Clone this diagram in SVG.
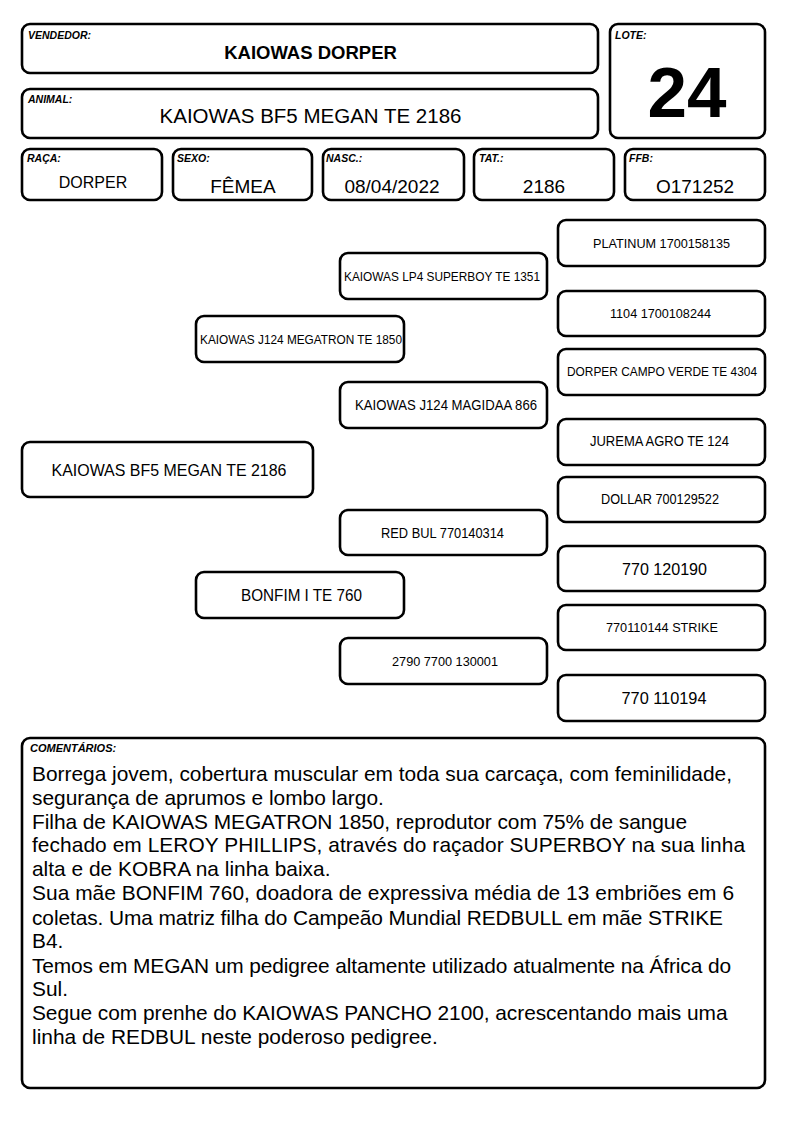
<svg xmlns="http://www.w3.org/2000/svg" width="794" height="1123" viewBox="0 0 794 1123">
<style>
rect{fill:#fff;stroke:#000;stroke-width:2.6}
text{font-family:"Liberation Sans",Arial,sans-serif;fill:#000}
.lbl{font-size:10.5px;font-weight:bold;font-style:italic}
.ped{font-size:13.5px;text-anchor:middle}
.mid{text-anchor:middle}
.val{font-size:19px;text-anchor:middle}
.cm{font-size:20.9px}
</style>
<rect width="794" height="1123" style="fill:#fff;stroke:none"/>
<g id="vendedor"><rect x="22" y="24" width="576" height="49" rx="8"/><text class="lbl" x="28" y="39">VENDEDOR:</text><text class="mid" x="310.5" y="59" style="font-size:18.5px;font-weight:bold">KAIOWAS DORPER</text></g>
<g id="animal"><rect x="22" y="89" width="576" height="49" rx="8"/><text class="lbl" x="28" y="103">ANIMAL:</text><text class="mid" x="310.5" y="123" style="font-size:20.5px">KAIOWAS BF5 MEGAN TE 2186</text></g>
<g id="lote"><rect x="610" y="24" width="155" height="114" rx="8"/><text class="lbl" x="615" y="39">LOTE:</text><text class="mid" x="687" y="117" style="font-size:71px;font-weight:bold">24</text></g>
<g id="raca"><rect x="22" y="149" width="140" height="51" rx="8"/><text class="lbl" x="27" y="162">RAÇA:</text><text class="mid" x="93" y="188" style="font-size:16px">DORPER</text></g>
<g id="sexo"><rect x="173" y="149" width="139" height="51" rx="8"/><text class="lbl" x="177" y="162">SEXO:</text><text class="val" x="243" y="193">FÊMEA</text></g>
<g id="nasc"><rect x="323" y="149" width="141" height="51" rx="8"/><text class="lbl" x="326" y="162">NASC.:</text><text class="val" x="392" y="193">08/04/2022</text></g>
<g id="tat"><rect x="474" y="149" width="140" height="51" rx="8"/><text class="lbl" x="479" y="162">TAT.:</text><text class="val" x="544" y="193">2186</text></g>
<g id="ffb"><rect x="625" y="149" width="140" height="51" rx="8"/><text class="lbl" x="629" y="162">FFB:</text><text class="val" x="695" y="193">O171252</text></g>
<g id="connectors"></g>
<g id="p-platinum"><rect x="558" y="220" width="207" height="46" rx="8"/><text class="ped" x="661.5" y="247.5" textLength="137" lengthAdjust="spacingAndGlyphs">PLATINUM 1700158135</text></g>
<g id="p-1104"><rect x="558" y="291" width="207" height="45" rx="8"/><text class="ped" x="660.5" y="317.5" textLength="101" lengthAdjust="spacingAndGlyphs">1104 1700108244</text></g>
<g id="p-campoverde"><rect x="558" y="349" width="207" height="46" rx="8"/><text class="ped" x="662" y="376" textLength="190" lengthAdjust="spacingAndGlyphs">DORPER CAMPO VERDE TE 4304</text></g>
<g id="p-jurema"><rect x="558" y="419" width="207" height="46" rx="8"/><text class="ped" x="659.5" y="446" style="font-size:13.8px" textLength="139" lengthAdjust="spacingAndGlyphs">JUREMA AGRO TE 124</text></g>
<g id="p-dollar"><rect x="558" y="477" width="207" height="45" rx="8"/><text class="ped" x="660" y="504" style="font-size:13.8px" textLength="118" lengthAdjust="spacingAndGlyphs">DOLLAR 700129522</text></g>
<g id="p-770120190"><rect x="558" y="546" width="207" height="45" rx="8"/><text class="ped" x="664.5" y="575" style="font-size:17px" textLength="85" lengthAdjust="spacingAndGlyphs">770 120190</text></g>
<g id="p-strike"><rect x="558" y="605" width="207" height="45" rx="8"/><text class="ped" x="662" y="632" textLength="112" lengthAdjust="spacingAndGlyphs">770110144 STRIKE</text></g>
<g id="p-770110194"><rect x="558" y="675" width="207" height="46" rx="8"/><text class="ped" x="664" y="704" style="font-size:17px" textLength="85" lengthAdjust="spacingAndGlyphs">770 110194</text></g>
<g id="p-superboy"><rect x="340" y="253" width="207" height="46" rx="8"/><text class="ped" x="442" y="280.5" textLength="196" lengthAdjust="spacingAndGlyphs">KAIOWAS LP4 SUPERBOY TE 1351</text></g>
<g id="p-magidaa"><rect x="340" y="382" width="207" height="46" rx="8"/><text class="ped" x="446" y="410" style="font-size:14px" textLength="182" lengthAdjust="spacingAndGlyphs">KAIOWAS J124 MAGIDAA 866</text></g>
<g id="p-redbul"><rect x="340" y="510" width="207" height="45" rx="8"/><text class="ped" x="442.5" y="537.5" style="font-size:13.8px" textLength="123" lengthAdjust="spacingAndGlyphs">RED BUL 770140314</text></g>
<g id="p-2790"><rect x="340" y="638" width="207" height="46" rx="8"/><text class="ped" x="445" y="665.5" textLength="106" lengthAdjust="spacingAndGlyphs">2790 7700 130001</text></g>
<g id="p-megatron"><rect x="196" y="316" width="208" height="46" rx="8"/><text class="ped" x="301" y="343.5" textLength="202" lengthAdjust="spacingAndGlyphs">KAIOWAS J124 MEGATRON TE 1850</text></g>
<g id="p-bonfim"><rect x="196" y="572" width="208" height="46" rx="8"/><text class="ped" x="301.5" y="601" style="font-size:16.5px" textLength="121" lengthAdjust="spacingAndGlyphs">BONFIM I TE 760</text></g>
<g id="p-megan"><rect x="22" y="442" width="291" height="55" rx="8"/><text class="ped" x="169" y="476" style="font-size:17px" textLength="235" lengthAdjust="spacingAndGlyphs">KAIOWAS BF5 MEGAN TE 2186</text></g>
<g id="comentarios"><rect x="22" y="738" width="743" height="350" rx="8"/><text class="lbl" x="30" y="752" style="font-size:11px">COMENTÁRIOS:</text>
<text class="cm" x="32" y="781" textLength="700">Borrega jovem, cobertura muscular em toda sua carcaça, com feminilidade,</text>
<text class="cm" x="32" y="805">segurança de aprumos e lombo largo.</text>
<text class="cm" x="32" y="828.5" textLength="655">Filha de KAIOWAS MEGATRON 1850, reprodutor com 75% de sangue</text>
<text class="cm" x="32" y="852" textLength="713">fechado em LEROY PHILLIPS, através do raçador SUPERBOY na sua linha</text>
<text class="cm" x="32" y="876">alta e de KOBRA na linha baixa.</text>
<text class="cm" x="32" y="900" textLength="702">Sua mãe BONFIM 760, doadora de expressiva média de 13 embriões em 6</text>
<text class="cm" x="32" y="924.5" textLength="691">coletas. Uma matriz filha do Campeão Mundial REDBULL em mãe STRIKE</text>
<text class="cm" x="32" y="948">B4.</text>
<text class="cm" x="32" y="972.5" textLength="699">Temos em MEGAN um pedigree altamente utilizado atualmente na África do</text>
<text class="cm" x="32" y="996">Sul.</text>
<text class="cm" x="32" y="1020" textLength="695.5">Segue com prenhe do KAIOWAS PANCHO 2100, acrescentando mais uma</text>
<text class="cm" x="32" y="1044">linha de REDBUL neste poderoso pedigree.</text>
</g>
</svg>
